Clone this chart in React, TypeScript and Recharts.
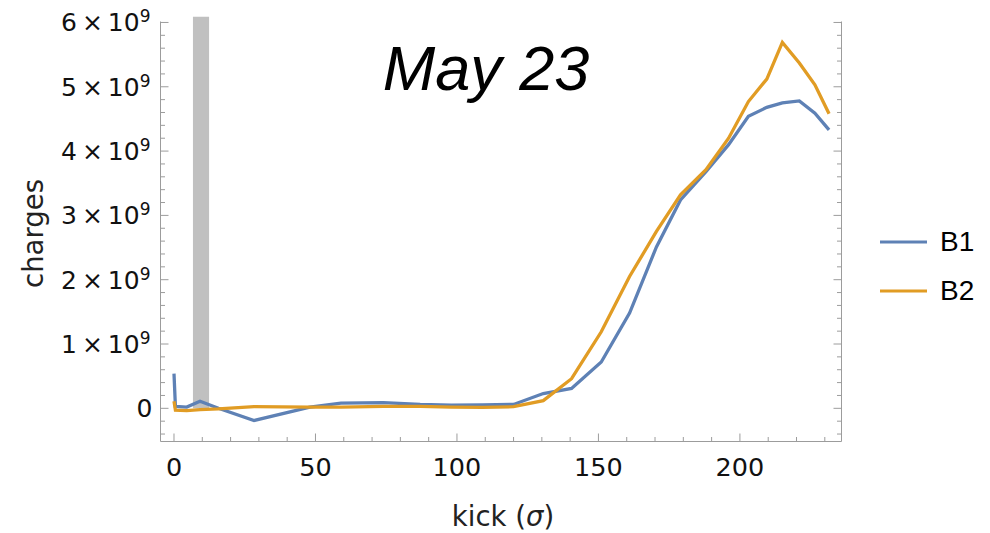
import React from 'react';
import { ComposedChart, Line, XAxis, YAxis, ReferenceArea, Legend, Customized } from 'recharts';

const title = 'May 23';
const xAxisTitle = 'kick (';
const xAxisSymbol = 'σ';
const yAxisTitle = 'charges';
const seriesNames = ['B1', 'B2'];
const seriesColors = ['#5e81b5', '#e19c24'];

// kick (sigma) values shared by both series
const kick = [0, 0.5, 4.5, 9.2, 15.7, 28.3, 48, 59, 74, 87, 98, 109, 120, 130.5, 140.5, 151, 161, 170.5, 179, 188, 196, 203, 209.5, 215, 221, 226.5, 231.5];
// charges, in units of 10^9
const b1 = [0.54, 0.03, 0.02, 0.11, 0.0, -0.19, 0.02, 0.08, 0.09, 0.06, 0.05, 0.055, 0.06, 0.23, 0.31, 0.72, 1.48, 2.51, 3.24, 3.68, 4.1, 4.54, 4.68, 4.75, 4.78, 4.59, 4.33];
const b2 = [0.11, -0.03, -0.035, -0.02, -0.01, 0.025, 0.02, 0.02, 0.03, 0.03, 0.02, 0.015, 0.025, 0.12, 0.46, 1.19, 2.05, 2.75, 3.32, 3.71, 4.2, 4.77, 5.12, 5.69, 5.37, 5.03, 4.58];

// shaded band (kick range)
const bandX = [6.7, 12.4];
const bandY = [0, 6.09];

const xTicks = [0, 10, 20, 30, 40, 50, 60, 70, 80, 90, 100, 110, 120, 130, 140, 150, 160, 170, 180, 190, 200, 210, 220, 230];
const xLabels = [0, 50, 100, 150, 200];
const yTicks = [-0.4, -0.2, 0, 0.2, 0.4, 0.6, 0.8, 1, 1.2, 1.4, 1.6, 1.8, 2, 2.2, 2.4, 2.6, 2.8, 3, 3.2, 3.4, 3.6, 3.8, 4, 4.2, 4.4, 4.6, 4.8, 5, 5.2, 5.4, 5.6, 5.8, 6];
const yLabels = [0, 1, 2, 3, 4, 5, 6];

const data = kick.map((k, i) => ({ kick: k, B1: b1[i], B2: b2[i] }));

const FONT = '"DejaVu Sans", sans-serif';
const FRAME = '#9c9c9c';
const MAJOR = 8;
const MINOR = 4.5;

const isMajorY = (v: number) => yLabels.some((l) => Math.abs(l - v) < 1e-6);

const BottomTick = (props: any) => {
  const { x, y, payload } = props;
  const v = payload.value;
  const major = xLabels.includes(v);
  return (
    <g>
      <line x1={x} x2={x} y1={y} y2={y - (major ? MAJOR : MINOR)} stroke={FRAME} strokeWidth={1} />
      {major && (
        <text x={x} y={y + 34} textAnchor="middle" fontSize={25.5} fontFamily={FONT} fill="#111">
          {v}
        </text>
      )}
    </g>
  );
};

const TopTick = (props: any) => {
  const { x, y, payload } = props;
  const major = xLabels.includes(payload.value);
  return <line x1={x} x2={x} y1={y} y2={y + (major ? MAJOR : MINOR)} stroke={FRAME} strokeWidth={1} />;
};

const LeftTick = (props: any) => {
  const { x, y, payload } = props;
  const v = payload.value;
  const major = isMajorY(v);
  const n = Math.round(v);
  return (
    <g>
      <line x1={x} x2={x + (major ? MAJOR : MINOR)} y1={y} y2={y} stroke={FRAME} strokeWidth={1} />
      {major &&
        (n === 0 ? (
          <text x={x - 8} y={y + 9} textAnchor="end" fontSize={25} fontFamily={FONT} fill="#111">
            0
          </text>
        ) : (
          <text x={x - 10} y={y + 9} textAnchor="end" fontSize={25} fontFamily={FONT} fill="#111">
            <tspan>{`${n}\u2009×\u200910`}</tspan>
            <tspan dy={-9} fontSize={17}>9</tspan>
          </text>
        ))}
    </g>
  );
};

const RightTick = (props: any) => {
  const { x, y, payload } = props;
  const major = isMajorY(payload.value);
  return <line x1={x} x2={x - (major ? MAJOR : MINOR)} y1={y} y2={y} stroke={FRAME} strokeWidth={1} />;
};

const XTitle = (props: any) => {
  const vb = props.viewBox || { x: 160, y: 441, width: 681, height: 91 };
  return (
    <text x={vb.x + vb.width / 2 + 2} y={vb.y + 84} textAnchor="middle" fontSize={27.5} fontFamily={FONT} fill="#222">
      <tspan>{xAxisTitle}</tspan>
      <tspan fontStyle="italic">{xAxisSymbol}</tspan>
      <tspan>)</tspan>
    </text>
  );
};

const YTitle = (props: any) => {
  const vb = props.viewBox || { x: 0, y: 21, width: 160, height: 420 };
  const cy = vb.y + vb.height / 2 + 2;
  return (
    <text transform={`translate(43, ${cy}) rotate(-90)`} textAnchor="middle" fontSize={27.5} fontFamily={FONT} fill="#222">
      {yAxisTitle}
    </text>
  );
};

const Title = () => (
  <text x={486} y={90} textAnchor="middle" fontSize={63} fontStyle="italic" fontFamily='"Liberation Sans", Arial, sans-serif' fill="#000">
    {title}
  </text>
);

const LegendContent = () => (
  <svg width={130} height={110} style={{ position: 'absolute', left: 870, top: 215, overflow: 'visible' }}>
    {seriesNames.map((name, i) => (
      <g key={name}>
        <line x1={10} x2={57} y1={27 + i * 49} y2={27 + i * 49} stroke={seriesColors[i]} strokeWidth={3.2} />
        <text x={70} y={36 + i * 49} fontSize={28} fontFamily='"Liberation Sans", Arial, sans-serif' fill="#000">
          {name}
        </text>
      </g>
    ))}
  </svg>
);

export default function App() {
  return (
    <div style={{ position: 'absolute', left: 0, top: 0, width: 990, height: 533, background: '#fff' }}>
      <ComposedChart width={990} height={533} data={data} margin={{ top: 21.5, right: 0, bottom: 0, left: 0.5 }}>
        <XAxis
          xAxisId="b"
          dataKey="kick"
          type="number"
          orientation="bottom"
          domain={[-4.77, 235.9]}
          allowDataOverflow
          ticks={xTicks}
          interval={0}
          height={91.5}
          tickSize={0}
          tickMargin={0}
          tickLine={false}
          axisLine={{ stroke: FRAME }}
          tick={<BottomTick />}
          label={<XTitle />}
        />
        <XAxis
          xAxisId="t"
          dataKey="kick"
          type="number"
          orientation="top"
          domain={[-4.77, 235.9]}
          allowDataOverflow
          ticks={xTicks}
          interval={0}
          height={0}
          tickSize={0}
          tickMargin={0}
          tickLine={false}
          axisLine={{ stroke: FRAME }}
          tick={<TopTick />}
        />
        <YAxis
          yAxisId="l"
          type="number"
          orientation="left"
          domain={[-0.516, 6.015]}
          allowDataOverflow
          ticks={yTicks}
          interval={0}
          width={160}
          tickSize={0}
          tickMargin={0}
          tickLine={false}
          axisLine={{ stroke: FRAME }}
          tick={<LeftTick />}
          label={<YTitle />}
        />
        <YAxis
          yAxisId="r"
          type="number"
          orientation="right"
          domain={[-0.516, 6.015]}
          allowDataOverflow
          ticks={yTicks}
          interval={0}
          width={148.5}
          tickSize={0}
          tickMargin={0}
          tickLine={false}
          axisLine={{ stroke: FRAME }}
          tick={<RightTick />}
        />
        <ReferenceArea
          xAxisId="b"
          yAxisId="l"
          x1={bandX[0]}
          x2={bandX[1]}
          y1={bandY[0]}
          y2={bandY[1]}
          fill="#c0c0c0"
          fillOpacity={1}
          stroke="none"
          ifOverflow="visible"
        />
        {seriesNames.map((name, i) => (
          <Line
            key={name}
            xAxisId="b"
            yAxisId="l"
            type="linear"
            dataKey={name}
            name={name}
            stroke={seriesColors[i]}
            strokeWidth={3.3}
            dot={false}
            activeDot={false}
            isAnimationActive={false}
          />
        ))}
        <Customized component={Title} />
        <Legend
          layout="vertical"
          align="right"
          verticalAlign="middle"
          wrapperStyle={{ left: 0, top: 0, right: 'auto', bottom: 'auto', width: 0, height: 0 }}
          content={<LegendContent />}
        />
      </ComposedChart>
    </div>
  );
}
